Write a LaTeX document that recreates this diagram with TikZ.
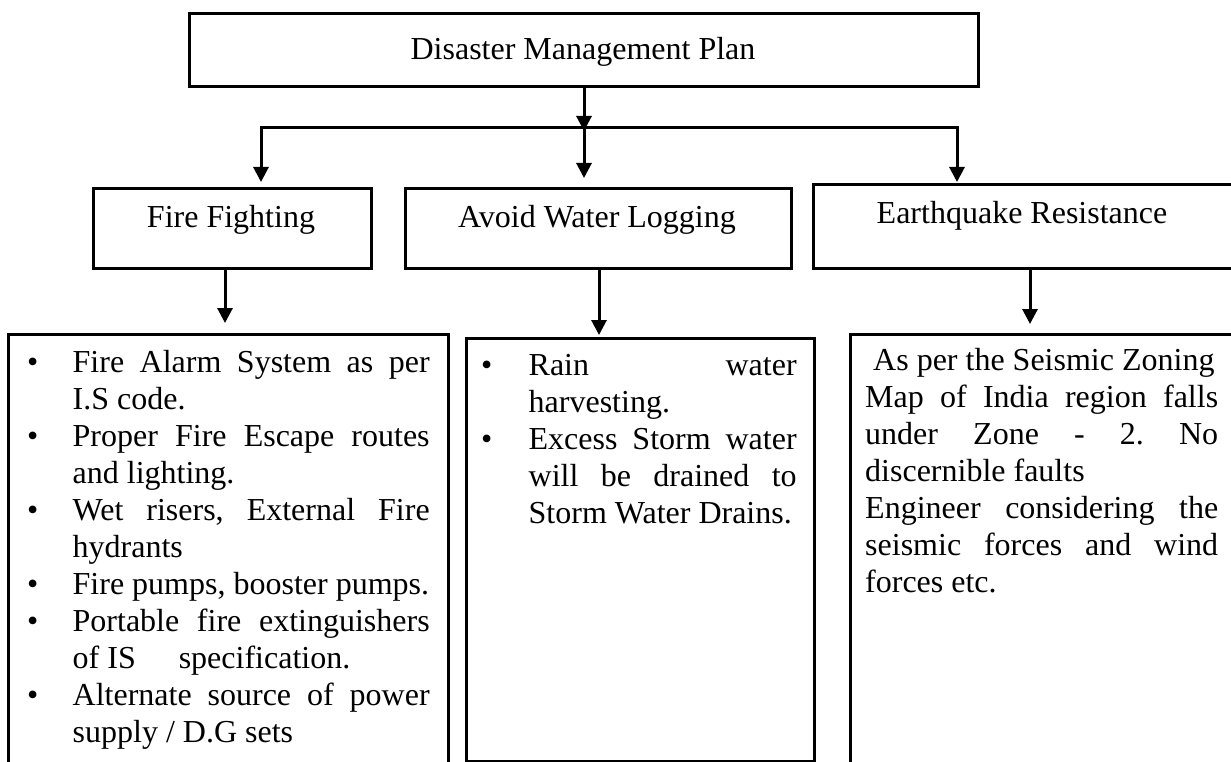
\documentclass[tikz,border=0pt]{standalone}
\usepackage{fontspec}
\setmainfont{Liberation Serif}
\usetikzlibrary{arrows.meta}
\frenchspacing
\newlength\bulw
\newlength\txtw
\newcommand{\BulJ}[1]{\hbox{\makebox[\bulw][l]{\textbullet}\makebox[\txtw][s]{#1}}}
\newcommand{\BulN}[1]{\hbox{\makebox[\bulw][l]{\textbullet}#1}}
\newcommand{\ConJ}[1]{\hbox{\hspace*{\bulw}\makebox[\txtw][s]{#1}}}
\newcommand{\ConN}[1]{\hbox{\hspace*{\bulw}#1}}
\tikzset{
  box/.style={draw=black, line width=3pt, inner sep=0pt, anchor=north west},
  arr/.style={draw=black, line width=3pt, -{Triangle[length=15pt,width=15pt]}},
  lbl/.style={anchor=base, inner sep=0pt},
  body/.style={anchor=base west, inner sep=0pt}
}
\begin{document}
\begin{tikzpicture}[x=1pt, y=-1pt, font=\fontsize{32}{37}\selectfont]
\useasboundingbox (0,0) rectangle (1231,762);
\clip (0,0) rectangle (1231,762);
\fill[white] (0,0) rectangle (1231,762);

% level 1
\node[box, minimum width=789pt, minimum height=73pt] (top) at (188,12) {};
\node[lbl] (toptxt) at (583,60) {Disaster Management Plan};

% level 2
\node[box, minimum width=278pt, minimum height=80pt] (ff) at (92,187) {};
\node[lbl] (fftxt) at (231,227) {Fire Fighting};
\node[box, minimum width=386pt, minimum height=80pt] (aw) at (404,187) {};
\node[lbl] (awtxt) at (597,227) {Avoid Water Logging};
\node[box, minimum width=422pt, minimum height=84pt] (eq) at (812,183) {};
\node[lbl] (eqtxt) at (1022,223) {Earthquake Resistance};

% level 3
\node[box, minimum width=440pt, minimum height=460pt] (lb) at (7,333) {};
\node[box, minimum width=348pt, minimum height=423pt] (mb) at (465,337) {};
\node[box, minimum width=400pt, minimum height=460pt] (rb) at (849,333) {};

% junctions
\coordinate (jm) at (584,128);
\coordinate (jl) at (261,128);
\coordinate (jr) at (957,128);
\coordinate (c1) at (225,300);
\coordinate (c2) at (599,300);
\coordinate (c3) at (1030,300);

% connectors
\draw[arr, shorten >=-3pt] (top.south -| jm) -- (jm);
\draw[line width=3pt, line cap=rect] (jl) -- (jr);
\draw[arr, shorten >=5pt] (jl) -- (ff.north -| jl);
\draw[arr, shorten >=9pt] (jm) -- (aw.north -| jm);
\draw[arr, shorten >=1pt] (jr) -- (eq.north -| jr);
\draw[arr, shorten >=10pt] (ff.south -| c1) -- (lb.north -| c1);
\draw[arr, shorten >=2pt] (aw.south -| c2) -- (mb.north -| c2);
\draw[arr, shorten >=9pt] (eq.south -| c3) -- (rb.north -| c3);

% texts
\node[body] (lbt) at (27,372) {\setlength\bulw{45.5pt}\setlength\txtw{357pt}\vtop{%
\BulJ{Fire Alarm System as per}
\ConN{I.S code.}
\BulJ{Proper Fire Escape routes}
\ConN{and lighting.}
\BulJ{Wet risers, External Fire}
\ConN{hydrants}
\BulN{Fire pumps, booster pumps.}
\BulJ{Portable fire extinguishers}
\ConN{of IS\hspace*{43pt}specification.}
\BulJ{Alternate source of power}
\ConN{supply / D.G sets}}};

\node[body] (mbt) at (481,375) {\setlength\bulw{47.5pt}\setlength\txtw{268pt}\vtop{%
\BulJ{Rain water}
\ConN{harvesting.}
\BulJ{Excess Storm water}
\ConJ{will be drained to}
\ConN{Storm Water Drains.}}};

\node[body] (rbt) at (865,370) {\setlength\bulw{0pt}\setlength\txtw{353pt}\vtop{%
\ConN{\hspace*{8pt}As per the Seismic Zoning}
\ConJ{Map of India region falls}
\ConJ{under Zone - 2. No}
\ConN{discernible faults}
\ConJ{Engineer considering the}
\ConJ{seismic forces and wind}
\ConN{forces etc.}}};
\end{tikzpicture}
\end{document}
